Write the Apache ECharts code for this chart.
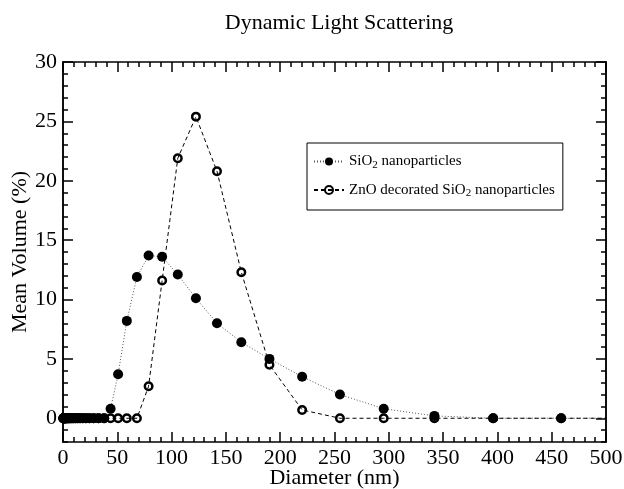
<!DOCTYPE html>
<html>
<head>
<meta charset="utf-8">
<script src="https://cdn.jsdelivr.net/npm/echarts@6/dist/echarts.min.js"></script>
<style>
html, body { margin: 0; background: #fff; }
#chart { width: 624px; height: 489px; }
</style>
</head>
<body>
<div id="chart"></div>
<script>
// size bins (nm)
var diameters = [0.4, 0.4632, 0.5365, 0.6213, 0.7195, 0.8332, 0.9649, 1.117, 1.294, 1.499,
    1.736, 2.01, 2.328, 2.696, 3.122, 3.615, 4.187, 4.849, 5.615, 6.503,
    7.531, 8.721, 10.1, 11.7, 13.54, 15.69, 18.17, 21.04, 24.36, 28.21,
    32.67, 37.84, 43.82, 50.75, 58.77, 68.06, 78.82, 91.28, 105.7, 122.4,
    141.8, 164.2, 190.1, 220.2, 255.0, 295.3, 342.0, 396.1, 458.7, 531.2];
// mean volume (%)
var sio2 = [0, 0, 0, 0, 0, 0, 0, 0, 0, 0,
    0, 0, 0, 0, 0, 0, 0, 0, 0, 0,
    0, 0, 0, 0, 0, 0, 0, 0, 0, 0,
    0, 0, 0.8, 3.7, 8.2, 11.9, 13.7, 13.6, 12.1, 10.1,
    8.0, 6.4, 5.0, 3.5, 2.0, 0.8, 0.2, 0, 0, 0];
var znoSio2 = [0, 0, 0, 0, 0, 0, 0, 0, 0, 0,
    0, 0, 0, 0, 0, 0, 0, 0, 0, 0,
    0, 0, 0, 0, 0, 0, 0, 0, 0, 0,
    0, 0, 0, 0, 0, 0, 2.7, 11.6, 21.9, 25.4,
    20.8, 12.3, 4.5, 0.7, 0, 0, 0, 0, 0, 0];
var seriesNames = ['SiO2 nanoparticles', 'ZnO decorated SiO2 nanoparticles'];
var yMajor = [0, 5, 10, 15, 20, 25, 30];
var yMinor = [];
for (var v = -2; v <= 30; v++) {
    if (v % 5 !== 0) yMinor.push(v);
}

var font = 'Liberation Serif';
var black = '#000';

function pairs(ys) {
    return diameters.map(function (d, i) { return [d, ys[i]]; });
}

function xAx(pos) {
    return {
        type: 'value', position: pos, min: 0, max: 500, interval: 50,
        axisLine: { onZero: false, lineStyle: { color: black, width: 1.5 } },
        axisTick: { inside: true, length: 10, lineStyle: { color: black, width: 1.5 } },
        minorTick: { show: true, splitNumber: 5, length: 5, lineStyle: { color: black, width: 1.5 } },
        splitLine: { show: false },
        axisLabel: { show: pos === 'bottom', fontFamily: font, fontSize: 22, color: black, margin: 5 },
        name: pos === 'bottom' ? 'Diameter (nm)' : '',
        nameLocation: 'middle', nameGap: 25, nameMoveOverlap: false,
        nameTextStyle: { fontFamily: font, fontSize: 22, color: black }
    };
}

function yAx(pos, ticks, len, labels) {
    return {
        type: 'value', position: pos, min: -2, max: 30,
        axisLine: { show: true, onZero: false, lineStyle: { color: black, width: 1.5 } },
        axisTick: { show: true, inside: true, length: len, customValues: ticks,
            lineStyle: { color: black, width: 1.5 } },
        splitLine: { show: false },
        axisLabel: { show: labels, customValues: yMajor, fontFamily: font, fontSize: 22, color: black, margin: 6 },
        name: labels ? 'Mean Volume (%)' : '',
        nameLocation: 'middle', nameGap: 32, nameMoveOverlap: false,
        nameTextStyle: { fontFamily: font, fontSize: 22, color: black }
    };
}

var myChart = echarts.init(document.getElementById('chart'));
var option = {
    animation: false,
    backgroundColor: '#fff',
    title: {
        text: 'Dynamic Light Scattering',
        left: 334, top: 7, textAlign: 'center',
        textStyle: { fontFamily: font, fontSize: 22, fontWeight: 'normal', color: black }
    },
    grid: { left: 63, right: 18, top: 62, bottom: 47, containLabel: false, outerBoundsMode: 'none' },
    legend: {
        orient: 'vertical', left: 307, top: 143,
        data: seriesNames,
        padding: [11, 8, 11, 6],
        itemGap: 12, itemWidth: 30, itemHeight: 10,
        borderColor: black, borderWidth: 1,
        formatter: function (name) { return name.replace(/SiO2/g, 'SiO{s|2}'); },
        textStyle: {
            fontFamily: font, fontSize: 15, color: black,
            rich: { s: { fontFamily: font, fontSize: 11, color: black, padding: [7, 0, 0, 0] } }
        }
    },
    xAxis: [xAx('bottom'), xAx('top')],
    yAxis: [
        yAx('left', yMajor, 10, true),
        yAx('left', yMinor, 5, false),
        yAx('right', yMajor, 10, false),
        yAx('right', yMinor, 5, false)
    ],
    series: [
        {
            name: seriesNames[0], type: 'line', data: pairs(sio2),
            symbol: 'circle', symbolSize: 10, clip: true, z: 2,
            itemStyle: { color: black },
            lineStyle: { color: '#555', width: 1, type: [1, 2] },
            emphasis: { disabled: true }
        },
        {
            name: seriesNames[1], type: 'line', data: pairs(znoSio2),
            symbol: 'circle', symbolSize: 7.5, clip: true, z: 3,
            itemStyle: { color: 'rgba(0,0,0,0)', borderColor: black, borderWidth: 2.5 },
            lineStyle: { color: black, width: 1, type: [4, 3] },
            emphasis: { disabled: true }
        }
    ]
};
myChart.setOption(option);
</script>
</body>
</html>
